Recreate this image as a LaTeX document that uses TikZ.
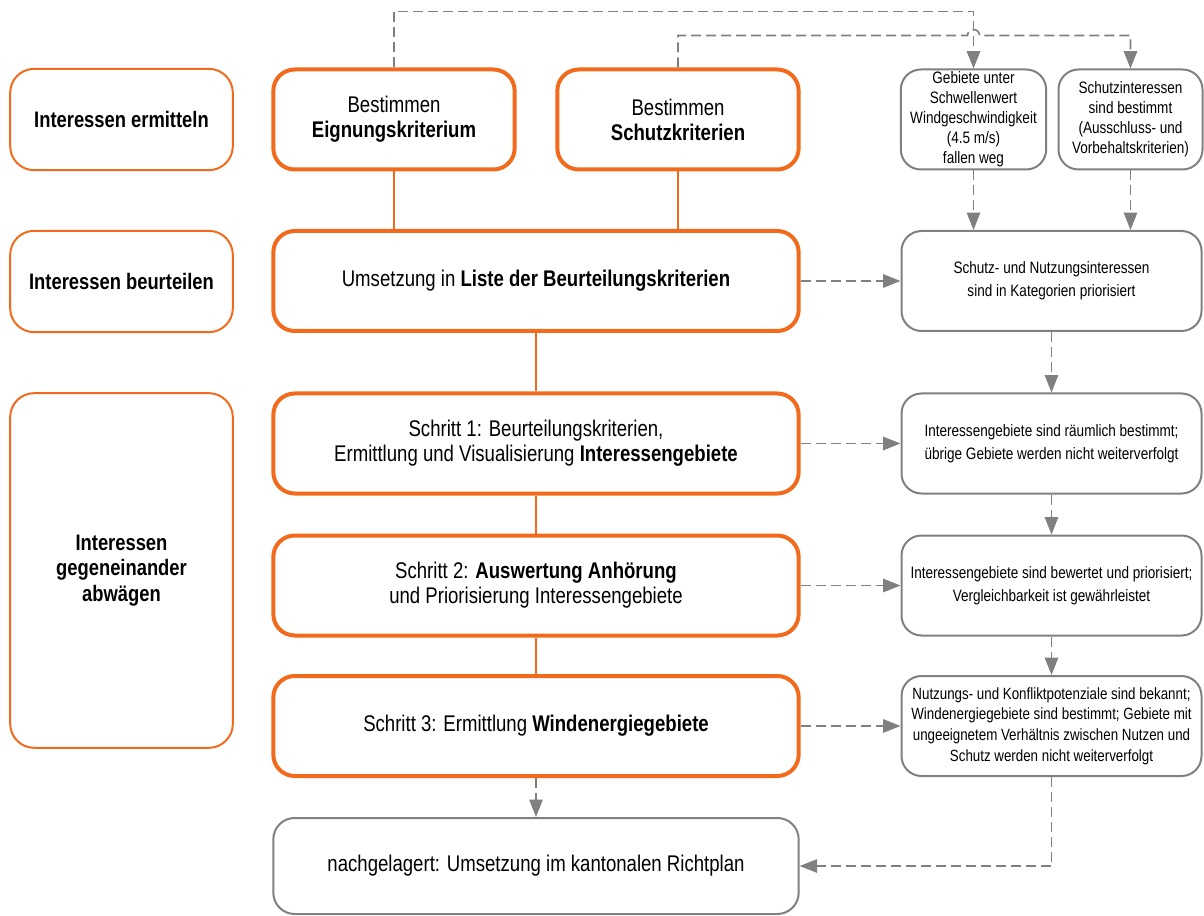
\documentclass[tikz,border=0pt]{standalone}
\usepackage{fontspec}
\setmainfont{Liberation Sans}[FakeStretch=0.82]
\usetikzlibrary{arrows.meta}
\definecolor{orng}{HTML}{F26B1D}
\definecolor{grey}{HTML}{808080}
\tikzset{
  phase/.style={draw=orng, line width=1.5pt, rounded corners=18pt, align=center,
    minimum width=167pt, minimum height=76pt, font=\bfseries\fontsize{16.8}{19}\selectfont},
  task/.style={draw=orng, line width=3pt, rounded corners=16pt, align=center,
    minimum height=75pt, font=\fontsize{17}{18.75}\selectfont},
  result/.style={draw=grey, line width=1.5pt, rounded corners=15pt, align=center,
    minimum height=75pt, inner sep=1pt, font=\fontsize{12.4}{17.25}\selectfont},
  tie/.style={draw=orng, line width=1.5pt},
  link/.style={draw=grey, line width=1.25pt, dash pattern=on 7.5pt off 3.75pt},
  flow/.style={link, -{Triangle[length=13pt,width=10pt]}}
}
\begin{document}
\begin{tikzpicture}[x=0.75pt,y=-0.75pt]
\useasboundingbox (0,0) rectangle (1204,916);
%left column
\node[phase] (ermitteln) at (121.5,119.5) {Interessen ermitteln};
\node[phase] (beurteilen) at (121.5,281.5) {Interessen beurteilen};
\node[phase, minimum height=266pt] (abwaegen) at (121.5,570.5) {Interessen\\gegeneinander\\abwägen};
%middle column
\node[task, minimum width=181pt] (eignung) at (394,119.5) {Bestimmen\\\textbf{Eignungskriterium}};
\node[task, minimum width=181pt] (schutz) at (678,119.5) {Bestimmen\\\textbf{Schutzkriterien}};
\node[task, minimum width=394pt] (liste) at (536,281) {Umsetzung in \textbf{Liste der Beurteilungskriterien}};
\node[task, minimum width=394pt] (schritt1) at (536,443.5) {Schritt 1: Beurteilungskriterien,\\Ermittlung und Visualisierung \textbf{Interessengebiete}};
\node[task, minimum width=394pt] (schritt2) at (536,585.5) {Schritt 2: \textbf{Auswertung Anhörung}\\und Priorisierung Interessengebiete};
\node[task, minimum width=394pt] (schritt3) at (536,726) {Schritt 3: Ermittlung \textbf{Windenergiegebiete}};
\node[task, draw=grey, line width=1.5pt, minimum width=394pt, minimum height=72pt] (richtplan) at (536,866) {nachgelagert: Umsetzung im kantonalen Richtplan};
%right column
\node[result, minimum width=109pt, font=\fontsize{12.4}{15}\selectfont] (gebiete) at (973.5,119.5) {Gebiete unter\\Schwellenwert\\Windgeschwindigkeit\\(4.5 m/s)\\fallen weg};
\node[result, minimum width=108pt, font=\fontsize{12.4}{15}\selectfont] (schutzint) at (1130.5,119.5) {Schutzinteressen\\sind bestimmt\\(Ausschluss- und\\Vorbehaltskriterien)};
\node[result, minimum width=225pt] (prior) at (1051.5,281) {Schutz- und Nutzungsinteressen\\sind in Kategorien priorisiert};
\node[result, minimum width=225pt] (raeumlich) at (1051.5,443.5) {Interessengebiete sind räumlich bestimmt;\\übrige Gebiete werden nicht weiterverfolgt};
\node[result, minimum width=225pt] (bewertet) at (1051.5,585.5) {Interessengebiete sind bewertet und priorisiert;\\Vergleichbarkeit ist gewährleistet};
\node[result, minimum width=225pt, font=\fontsize{12.2}{15.4}\selectfont] (potenz) at (1051.5,726) {Nutzungs- und Konfliktpotenziale sind bekannt;\\Windenergiegebiete sind bestimmt; Gebiete mit\\ungeeignetem Verhältnis zwischen Nutzen und\\Schutz werden nicht weiterverfolgt};
%orange ties
\draw[tie] (eignung.south) -- (eignung.south |- liste.north);
\draw[tie] (schutz.south) -- (schutz.south |- liste.north);
\draw[tie] (liste.south) -- (schritt1.north);
\draw[tie] (schritt1.south) -- (schritt2.north);
\draw[tie] (schritt2.south) -- (schritt3.north);
%dashed flows
\draw[flow] (eignung.north) -- ++(0,-56) -| (gebiete.north);
\path (gebiete.north) ++(0,-33) coordinate (hop);
\draw[flow] (schutz.north) |- ([xshift=-4.5pt]hop) arc[start angle=180, end angle=0, radius=4.5pt] -| (schutzint.north);
\draw[flow] (gebiete.south) -- (gebiete.south |- prior.north);
\draw[flow] (schutzint.south) -- (schutzint.south |- prior.north);
\draw[flow] (prior.south) -- (raeumlich.north);
\draw[flow] (raeumlich.south) -- (bewertet.north);
\draw[flow] (bewertet.south) -- (potenz.north);
\draw[flow] (potenz.south) |- (richtplan.east);
\draw[flow] (liste.east) -- (prior.west);
\draw[flow] (schritt1.east) -- (raeumlich.west);
\draw[flow] (schritt2.east) -- (bewertet.west);
\draw[flow] (schritt3.east) -- (potenz.west);
\draw[flow] (schritt3.south) -- (richtplan.north);
\end{tikzpicture}
\end{document}
